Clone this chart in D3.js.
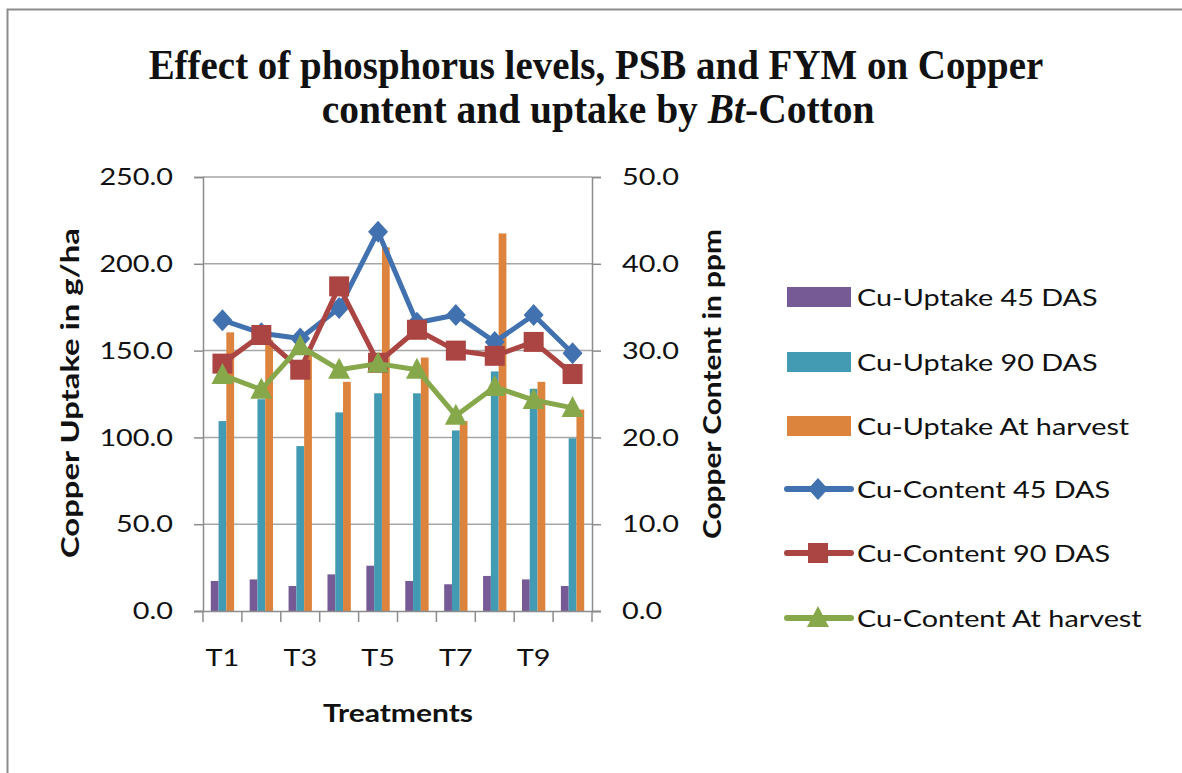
<!DOCTYPE html>
<html>
<head>
<meta charset="utf-8">
<script src="https://cdn.jsdelivr.net/npm/d3@7"></script>
<style>
  body { margin: 0; background: #fff; }
  text { font-family: Lato, "Open Sans", sans-serif; fill: #111; }
</style>
</head>
<body>
<div class="chart-box"></div>
<script>
var treatments = ["T1", "T2", "T3", "T4", "T5", "T6", "T7", "T8", "T9", "T10"];
var uptake45 = [17.3, 18.2, 14.4, 21.1, 26.1, 17.3, 15.4, 20.2, 18.2, 14.4];
var uptake90 = [109.4, 122, 95, 114.4, 125.4, 125.4, 104, 138, 128, 99.5];
var uptakeHarvest = [160.5, 156, 150, 132, 209.5, 146, 109.4, 217.5, 132, 116];
var content45 = [33.5, 32.0, 31.4, 34.9, 43.7, 33.2, 34.1, 31.0, 34.1, 29.7];
var content90 = [28.5, 31.8, 27.8, 37.4, 28.6, 32.4, 30.0, 29.4, 31.0, 27.3];
var contentHarvest = [27.2, 25.5, 30.5, 27.8, 28.5, 27.8, 22.5, 25.8, 24.3, 23.4];
var leftTicks = [0, 50, 100, 150, 200, 250];
var rightTicks = [0, 10, 20, 30, 40, 50];

var barSeries = [
  {name: "Cu-Uptake 45 DAS", values: uptake45, color: "#755A95"},
  {name: "Cu-Uptake 90 DAS", values: uptake90, color: "#439AB3"},
  {name: "Cu-Uptake At harvest", values: uptakeHarvest, color: "#DC843E"}
];
var lineSeries = [
  {name: "Cu-Content 45 DAS", values: content45, color: "#4271B0", marker: "diamond"},
  {name: "Cu-Content 90 DAS", values: content90, color: "#AA4543", marker: "square"},
  {name: "Cu-Content At harvest", values: contentHarvest, color: "#86A84A", marker: "triangle"}
];

var W = 1182, H = 773;
var plot = {left: 203, right: 592, top: 177, bottom: 611};
var stretch = 1.2;  // the picture's sans text is wide, widen ours to match

function widen(sel) {
  sel.each(function() {
    var w = this.getComputedTextLength();
    d3.select(this).attr("textLength", w * stretch).attr("lengthAdjust", "spacingAndGlyphs");
  });
}

var svg = d3.select(".chart-box").append("svg")
    .attr("width", W)
    .attr("height", H);

// outer chart frame
svg.append("rect")
    .attr("x", 7.5).attr("y", 9.5)
    .attr("width", W + 10).attr("height", H + 10)
    .attr("fill", "none").attr("stroke", "#8c8c8c").attr("stroke-width", 2);

// title: condensed serif, squeezed with a horizontal scale
function titleLine(cx, cy, width, build) {
  var g = svg.append("g");
  var t = g.append("text")
      .attr("x", 0).attr("y", 0)
      .attr("text-anchor", "middle")
      .style("font-family", "'Liberation Serif', serif")
      .attr("font-weight", "bold").attr("font-size", 43);
  build(t);
  var w = t.node().getComputedTextLength();
  g.attr("transform", "translate(" + cx + "," + cy + ") scale(" + (width / w) + ",1)");
}
titleLine(596, 79, 895, function(t) {
  t.text("Effect of phosphorus levels, PSB and FYM on Copper");
});
titleLine(598, 123, 553, function(t) {
  t.append("tspan").text("content and uptake by ");
  t.append("tspan").attr("font-style", "italic").text("Bt");
  t.append("tspan").text("-Cotton");
});

var x = d3.scaleBand()
    .domain(treatments)
    .range([plot.left, plot.right])
    .padding(0);
var unit = x.bandwidth() / 5;
var xInner = d3.scaleBand()
    .domain(barSeries.map(function(d) { return d.name; }))
    .range([unit, unit * 4]);

var yLeft = d3.scaleLinear().domain([0, 250]).range([plot.bottom, plot.top]);
var yRight = d3.scaleLinear().domain([0, 50]).range([plot.bottom, plot.top]);

// gridlines
svg.append("g")
  .selectAll("line")
  .data(leftTicks.slice(1))
  .enter().append("line")
    .attr("x1", plot.left).attr("x2", plot.right)
    .attr("y1", function(d) { return yLeft(d); })
    .attr("y2", function(d) { return yLeft(d); })
    .attr("stroke", "#a6a6a6").attr("stroke-width", 1.5);

// bars
barSeries.forEach(function(s) {
  svg.append("g")
    .selectAll("rect")
    .data(s.values)
    .enter().append("rect")
      .attr("x", function(d, i) { return x(treatments[i]) + xInner(s.name); })
      .attr("width", xInner.bandwidth())
      .attr("y", function(d) { return yLeft(d); })
      .attr("height", function(d) { return plot.bottom - yLeft(d); })
      .attr("fill", s.color);
});

// axes
var leftAxis = svg.append("g")
    .attr("transform", "translate(" + plot.left + ",0)")
    .call(d3.axisLeft(yLeft).tickValues(leftTicks).tickFormat(d3.format(".1f")).tickSize(9).tickPadding(21));
var rightAxis = svg.append("g")
    .attr("transform", "translate(" + plot.right + ",0)")
    .call(d3.axisRight(yRight).tickValues(rightTicks).tickFormat(d3.format(".1f")).tickSize(9).tickPadding(21));
var bottomAxis = svg.append("g")
    .attr("transform", "translate(0," + plot.bottom + ")")
    .call(d3.axisBottom(x)
      .tickFormat(function(d, i) { return i % 2 === 0 ? d : ""; })
      .tickSize(0).tickPadding(38));

[leftAxis, rightAxis, bottomAxis].forEach(function(a) {
  a.selectAll("path.domain").attr("stroke", "#8c8c8c").attr("stroke-width", 1.5);
  a.selectAll(".tick line").attr("stroke", "#8c8c8c").attr("stroke-width", 1.5);
  a.selectAll("text")
    .style("font-family", "Lato, 'Open Sans', sans-serif")
    .attr("font-size", 24).attr("fill", "#111")
    .call(widen);
});
bottomAxis.select("path.domain").attr("d", "M" + (plot.left - 9) + ",0.5H" + (plot.right + 9));

// category boundary ticks on x axis
svg.append("g")
  .selectAll("line")
  .data(treatments.concat(["end"]))
  .enter().append("line")
    .attr("x1", function(d, i) { return plot.left + i * x.bandwidth(); })
    .attr("x2", function(d, i) { return plot.left + i * x.bandwidth(); })
    .attr("y1", plot.bottom).attr("y2", plot.bottom + 11)
    .attr("stroke", "#8c8c8c").attr("stroke-width", 1.5);

// lines with markers
var markerPath = {
  diamond: "M0,-11L10,0L0,11L-10,0Z",
  square: "M-10,-10H10V10H-10Z",
  triangle: "M0,-12L11,9H-11Z"
};
lineSeries.forEach(function(s) {
  var line = d3.line()
      .x(function(d, i) { return x(treatments[i]) + x.bandwidth() / 2; })
      .y(function(d) { return yRight(d); });
  var g = svg.append("g");
  g.append("path")
      .datum(s.values)
      .attr("d", line)
      .attr("fill", "none")
      .attr("stroke", s.color)
      .attr("stroke-width", 5)
      .attr("stroke-linejoin", "round");
  g.selectAll("path.mk")
    .data(s.values)
    .enter().append("path")
      .attr("class", "mk")
      .attr("d", markerPath[s.marker])
      .attr("transform", function(d, i) {
        return "translate(" + (x(treatments[i]) + x.bandwidth() / 2) + "," + yRight(d) + ")";
      })
      .attr("fill", s.color);
});

// axis titles
svg.append("text")
    .attr("transform", "translate(79,393) rotate(-90)")
    .attr("text-anchor", "middle")
    .attr("font-weight", "bold").attr("font-size", 25)
    .attr("textLength", 330).attr("lengthAdjust", "spacingAndGlyphs")
    .text("Copper Uptake in g/ha");
svg.append("text")
    .attr("transform", "translate(721,384) rotate(-90)")
    .attr("text-anchor", "middle")
    .attr("font-weight", "bold").attr("font-size", 25)
    .attr("textLength", 310).attr("lengthAdjust", "spacingAndGlyphs")
    .text("Copper Content in ppm");
svg.append("text")
    .attr("x", 398).attr("y", 722)
    .attr("text-anchor", "middle")
    .attr("font-weight", "bold").attr("font-size", 25)
    .text("Treatments")
    .call(widen);

// legend
var legendY = [297, 362, 426, 489, 553, 618];
var legend = svg.append("g");
barSeries.forEach(function(s, i) {
  legend.append("rect")
      .attr("x", 787).attr("y", legendY[i] - 10)
      .attr("width", 64).attr("height", 20)
      .attr("fill", s.color);
  legend.append("text")
      .attr("x", 857).attr("y", legendY[i] + 9)
      .attr("font-size", 24)
      .text(s.name)
      .call(widen);
});
lineSeries.forEach(function(s, j) {
  var cy = legendY[j + 3];
  legend.append("line")
      .attr("x1", 787).attr("x2", 851)
      .attr("y1", cy).attr("y2", cy)
      .attr("stroke", s.color).attr("stroke-width", 6)
      .attr("stroke-linecap", "round");
  legend.append("path")
      .attr("d", markerPath[s.marker])
      .attr("transform", "translate(818," + cy + ")")
      .attr("fill", s.color);
  legend.append("text")
      .attr("x", 857).attr("y", cy + 9)
      .attr("font-size", 24)
      .text(s.name)
      .call(widen);
});
</script>
</body>
</html>
